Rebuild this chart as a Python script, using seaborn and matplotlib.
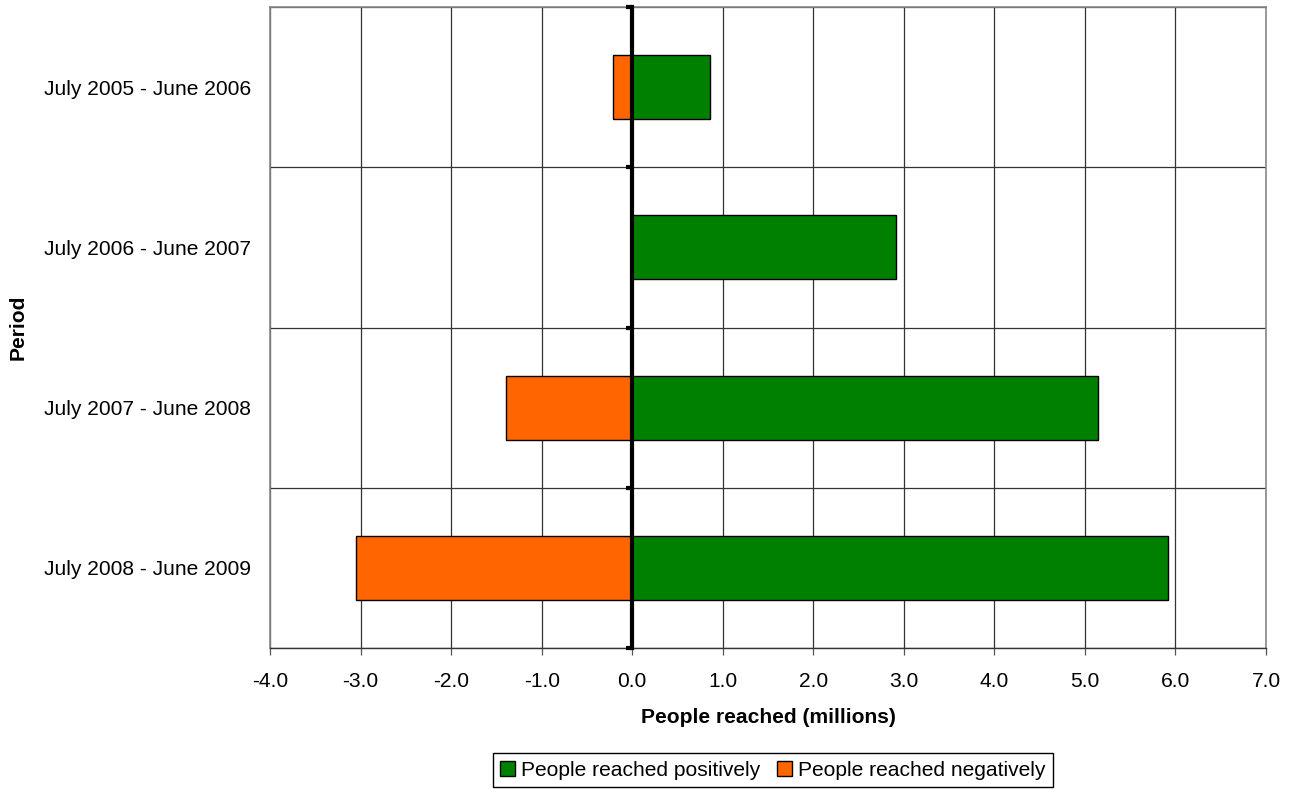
import pandas as pd
import numpy as np
import matplotlib
matplotlib.use("Agg")
import matplotlib.pyplot as plt
import seaborn as sns

# Data (millions of people)
periods = ["July 2005 - June 2006", "July 2006 - June 2007",
           "July 2007 - June 2008", "July 2008 - June 2009"]
positive = [0.86, 2.91, 5.14, 5.92]
negative = [-0.21, 0.0, -1.39, -3.05]
series_names = ["People reached positively", "People reached negatively"]
x_ticks = [-4.0, -3.0, -2.0, -1.0, 0.0, 1.0, 2.0, 3.0, 4.0, 5.0, 6.0, 7.0]

df = pd.DataFrame({
    "Period": periods * 2,
    "Value": positive + negative,
    "Series": [series_names[0]] * len(periods) + [series_names[1]] * len(periods),
})

sns.set_style("white")
plt.rcParams["font.family"] = ["Liberation Sans", "DejaVu Sans"]
plt.rcParams["text.color"] = "black"
plt.rcParams["axes.labelcolor"] = "black"
plt.rcParams["xtick.labelcolor"] = "black"
plt.rcParams["ytick.labelcolor"] = "black"

fs = 15.1

fig = plt.figure(figsize=(12.94, 7.89), dpi=100)
ax = fig.add_axes([270 / 1294, (789 - 648) / 789, (1266 - 270) / 1294, (648 - 7) / 789])

sns.barplot(data=df, x="Value", y="Period", hue="Series", orient="h",
            dodge=False, width=0.4, palette=["#008000", "#FF6600"], saturation=1,
            edgecolor="black", linewidth=1, ax=ax, zorder=3)

ax.set_xlim(-4, 7)
ax.set_ylim(len(periods) - 0.5, -0.5)
ax.set_xticks(x_ticks)
ax.set_xticklabels([f"{v:.1f}" for v in x_ticks], fontsize=fs)
ax.set_yticks(range(len(periods)))
ax.set_yticklabels(periods, fontsize=fs)
ax.set_yticks(np.arange(len(periods) + 1) - 0.5, minor=True)

ax.set_axisbelow(True)
ax.grid(axis="x", which="major", color="#333333", lw=0.9)
ax.grid(axis="y", which="minor", color="#333333", lw=0.9)
ax.grid(axis="y", which="major", visible=False)

ax.tick_params(axis="y", which="both", length=0, pad=13.5)
ax.tick_params(axis="x", which="major", direction="out", length=5,
               width=0.9, color="#555555", pad=12.5, bottom=True)

for side in ["top", "right", "left"]:
    ax.spines[side].set_color("#888888")
    ax.spines[side].set_linewidth(1.2)
ax.spines["bottom"].set_color("#333333")
ax.spines["bottom"].set_linewidth(1)

# thick zero axis with its category ticks
sec = ax.secondary_yaxis(4 / 11)
sec.set_alignment("left")
sec.set_yticks(np.arange(len(periods) + 1) - 0.5)
sec.tick_params(length=4, width=3, labelleft=False, labelright=False, color="black")
sec.spines["left"].set_linewidth(3)
sec.spines["left"].set_color("black")
sec.set_zorder(5)

ax.set_xlabel("People reached (millions)", fontsize=fs, fontweight="bold", labelpad=12)
ax.set_ylabel("Period", fontsize=fs, fontweight="bold")
ax.yaxis.set_label_coords(-0.243, 0.5)

handles, labels = ax.get_legend_handles_labels()
ax.get_legend().remove()
fig.legend(handles, labels, loc="center", bbox_to_anchor=(773 / 1294, (789 - 770) / 789),
           ncol=2, fontsize=fs, frameon=True, fancybox=False, edgecolor="black",
           framealpha=1, handlelength=0.7, handleheight=0.7, handletextpad=0.3,
           columnspacing=0.8, borderpad=0.35, borderaxespad=0)

fig.savefig("out.png", dpi=100)
